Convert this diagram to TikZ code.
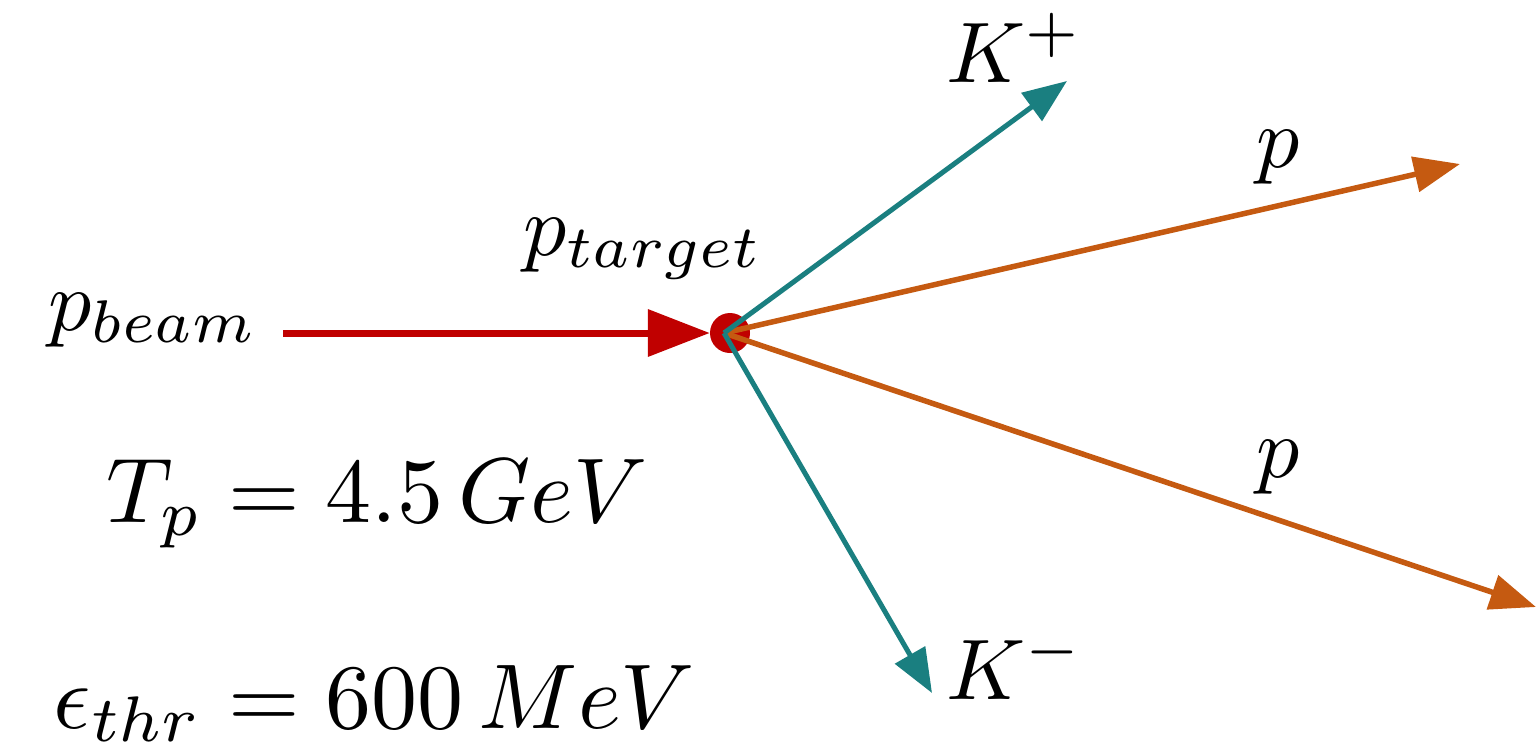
\documentclass[tikz,border=0pt]{standalone}
\usetikzlibrary{arrows.meta}
\definecolor{beamred}{HTML}{C00000}
\definecolor{kteal}{HTML}{1A7F80}
\definecolor{porange}{HTML}{C55A11}
\tikzset{
  lbl/.style={anchor=base west, inner sep=0pt, font=\normalsize, scale=8.6},
  eqn/.style={anchor=base west, inner sep=0pt, font=\normalsize, scale=9.2},
  beamarrow/.style={draw=beamred, line width=7pt, -{Triangle[length=62pt,width=46pt]}},
  kaon/.style={draw=kteal, line width=5pt, -{Triangle[length=44pt,width=34pt]}},
  proton/.style={draw=porange, line width=5.5pt, -{Triangle[length=46pt,width=35pt]}},
}
\begin{document}
\begin{tikzpicture}[x=1pt,y=-1pt]
\useasboundingbox (0,0) rectangle (1538,747);
% vertex
\node[circle, fill=beamred, minimum size=40pt, inner sep=0pt] (vtx) at (730,333) {};
\coordinate (o) at (724,333);
\coordinate (bstart) at (283,333);
\coordinate (kp) at (1067,81);
\coordinate (km) at (932,693);
\coordinate (p1) at (1460,164);
\coordinate (p2) at (1536,607);
% arrows
\draw[beamarrow] (bstart) -- (vtx.west);
\draw[proton] (o) -- (p1);
\draw[proton] (o) -- (p2);
\draw[kaon] (o) -- (kp);
\draw[kaon] (o) -- (km);
% labels
\node[lbl] (lbeam) at (47,330) {$p_{beam}$};
\node[lbl] (ltarget) at (522,255) {$p_{target}$};
\node[lbl] (lkp) at (945,82) {$K^{+}$};
\node[lbl] (lkm) at (945,699) {$K^{-}$};
\node[lbl] (lp1) at (1255,167) {$p$};
\node[lbl] (lp2) at (1255,477) {$p$};
\node[eqn] (eq1) at (105,522) {$T_p = 4.5\,GeV$};
\node[eqn] (eq2) at (52,728) {$\epsilon_{thr} = 600\,MeV$};
\end{tikzpicture}
\end{document}
